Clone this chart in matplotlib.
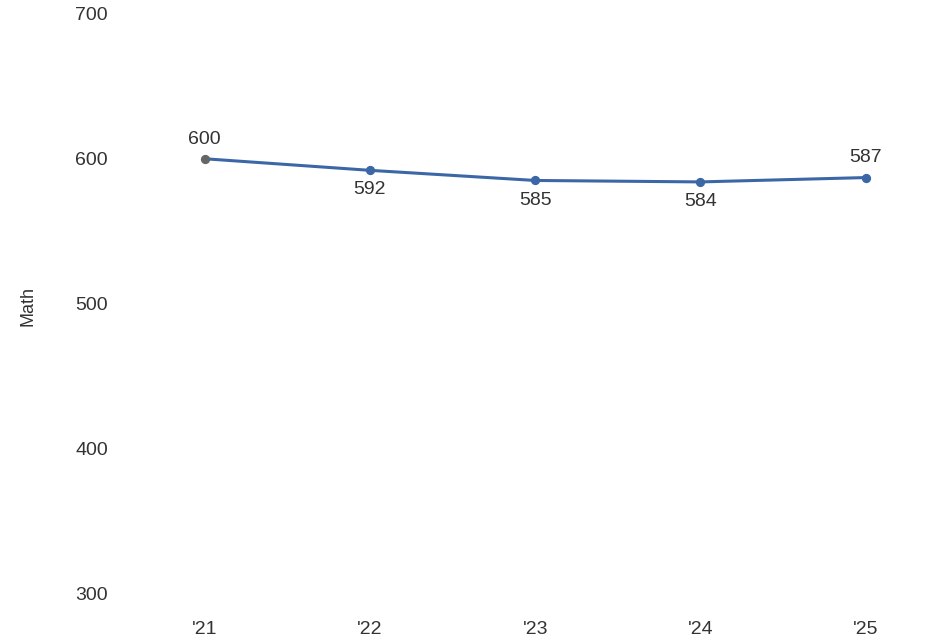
import matplotlib.pyplot as plt

plt.rcParams['font.family'] = ['Liberation Sans', 'DejaVu Sans']

years = ["'21", "'22", "'23", "'24", "'25"]
math_scores = [600, 592, 585, 584, 587]
# label above (+1) or below (-1) each point
label_side = [1, -1, -1, -1, 1]
y_ticks = [300, 400, 500, 600, 700]

line_color = '#3b67a6'
text_color = '#333333'

fig = plt.figure(figsize=(9.45, 6.41), dpi=100)
ax = fig.add_axes([122 / 945, 48 / 641, 785 / 945, 579 / 641])

x = list(range(len(years)))
ax.plot(x, math_scores, color=line_color, linewidth=2.2, zorder=2)
ax.scatter(x[1:], math_scores[1:], s=32, color=line_color, zorder=3)
ax.scatter(x[:1], math_scores[:1], s=32, color='#666666', zorder=3)

for xi, v, side in zip(x, math_scores, label_side):
    ax.annotate(str(v), (xi, v), xytext=(0, 8 * side), textcoords='offset points',
                ha='center', va='bottom' if side > 0 else 'top',
                fontsize=14, color=text_color)

ax.set_xlim(-0.5, 4.25)
ax.set_ylim(300, 700)
ax.set_xticks(x)
ax.set_xticklabels(years)
ax.set_yticks(y_ticks)

ax.tick_params(axis='both', length=0, labelsize=14, labelcolor=text_color)
ax.tick_params(axis='x', pad=20)
ax.tick_params(axis='y', pad=10)
for s in ax.spines.values():
    s.set_visible(False)

fig.text(28 / 945, 1 - 306 / 641, 'Math', rotation=90, ha='center', va='center',
         fontsize=13, color=text_color)

fig.savefig('out.png', dpi=100)
